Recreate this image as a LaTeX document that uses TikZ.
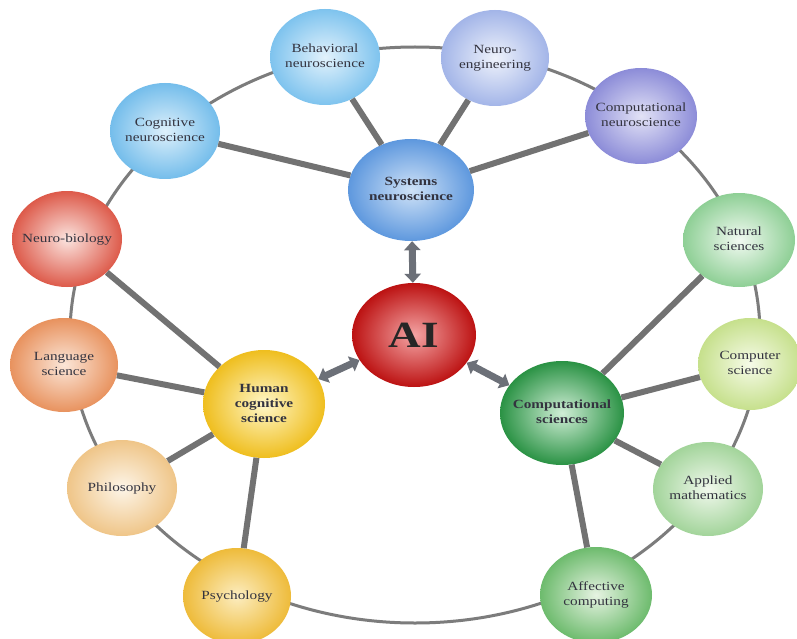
\documentclass[tikz,border=0pt]{standalone}
\usepackage{fontspec}
\setmainfont{Liberation Serif}[FakeStretch=1.22]
\usetikzlibrary{shapes.geometric,arrows.meta}
\definecolor{linegray}{HTML}{727272}
\definecolor{ringgray}{HTML}{7C7C7C}
\definecolor{arrgray}{HTML}{6C7078}
\definecolor{txt}{HTML}{33333F}
\definecolor{behI}{HTML}{E2F2FC}\definecolor{behO}{HTML}{7EC3EE}
\definecolor{neuI}{HTML}{EEF2FB}\definecolor{neuO}{HTML}{A3B5E8}
\definecolor{cogI}{HTML}{DDF0FB}\definecolor{cogO}{HTML}{74BDEB}
\definecolor{cneI}{HTML}{E2E2F6}\definecolor{cneO}{HTML}{8C8CD8}
\definecolor{sysI}{HTML}{CFE2F7}\definecolor{sysO}{HTML}{5E98DE}
\definecolor{nbiI}{HTML}{FBE4DF}\definecolor{nbiO}{HTML}{DD5A4A}
\definecolor{natI}{HTML}{F2FAF2}\definecolor{natO}{HTML}{8ECF95}
\definecolor{aiI}{HTML}{F4A4A4}\definecolor{aiO}{HTML}{BC1212}
\definecolor{lanI}{HTML}{FBE6D8}\definecolor{lanO}{HTML}{E8925E}
\definecolor{cscI}{HTML}{F6FBE8}\definecolor{cscO}{HTML}{C6E08C}
\definecolor{humI}{HTML}{FFF7C8}\definecolor{humO}{HTML}{EFBE1E}
\definecolor{cosI}{HTML}{D0EED6}\definecolor{cosO}{HTML}{2A9244}
\definecolor{phiI}{HTML}{FDF5E8}\definecolor{phiO}{HTML}{EFC588}
\definecolor{appI}{HTML}{F0F8EC}\definecolor{appO}{HTML}{A2D49A}
\definecolor{psyI}{HTML}{FCEDC0}\definecolor{psyO}{HTML}{EEBB3A}
\definecolor{affI}{HTML}{E6F3E2}\definecolor{affO}{HTML}{6DBB6D}
\newcommand{\lbl}[1]{\makebox[0pt]{\begin{tabular}{@{}c@{}}#1\end{tabular}}}
\begin{document}
\begin{tikzpicture}[x=1pt,y=-1pt,
  bub/.style n args={3}{ellipse, draw=none, inner sep=0pt, minimum width=#1, minimum height=#2,
     inner color=#3I, outer color=#3O, text=txt, font=\fontsize{12.5}{15}\selectfont},
  ringline/.style={draw=ringgray, line width=3pt},
  spoke/.style={draw=linegray, line width=6pt},
  dbl/.style={draw=arrgray, line width=7pt, {Triangle[width=16pt,length=9pt]}-{Triangle[width=16pt,length=9pt]}}
]
\useasboundingbox (0,0) rectangle (797,639);
\fill[white] (0,0) rectangle (797,639);
% outer ring
\draw[ringline] (415,335) ellipse [x radius=345, y radius=288];
% nodes
\node[bub={110}{96}{beh}] (beh) at (325,57) {\lbl{Behavioral\\neuroscience}};
\node[bub={108}{96}{neu}] (neu) at (495,58) {\lbl{Neuro-\\engineering}};
\node[bub={110}{96}{cog}] (cog) at (165,131) {\lbl{Cognitive\\neuroscience}};
\node[bub={112}{96}{cne}] (cne) at (641,116) {\lbl{Computational\\neuroscience}};
\node[bub={126}{102}{sys}] (sys) at (411,190) {\lbl{\bfseries Systems\\\bfseries neuroscience}};
\node[bub={110}{96}{nbi}] (nbi) at (67,239) {\lbl{Neuro-biology}};
\node[bub={112}{94}{nat}] (nat) at (739,240) {\lbl{Natural\\sciences}};
\node[bub={124}{104}{ai}, text=black!85, font=\fontsize{37}{40}\selectfont\bfseries] (ai) at (414,335) {AI};
\node[bub={108}{94}{lan}] (lan) at (64,365) {\lbl{Language\\science}};
\node[bub={104}{92}{csc}] (csc) at (750,364) {\lbl{Computer\\science}};
\node[bub={122}{108}{hum}] (hum) at (264,404) {\lbl{\bfseries Human\\\bfseries cognitive\\\bfseries science}};
\node[bub={124}{104}{cos}] (cos) at (562,413) {\lbl{\bfseries Computational\\\bfseries sciences}};
\node[bub={110}{96}{phi}] (phi) at (122,488) {\lbl{Philosophy}};
\node[bub={110}{94}{app}] (app) at (708,489) {\lbl{Applied\\mathematics}};
\node[bub={108}{96}{psy}] (psy) at (237,596) {\lbl{Psychology}};
\node[bub={112}{96}{aff}] (aff) at (596,595) {\lbl{Affective\\computing}};
% spokes
\draw[spoke] (sys) -- (beh);
\draw[spoke] (sys) -- (neu);
\draw[spoke] (sys) -- (cog);
\draw[spoke] (sys) -- (cne);
\draw[spoke] (hum) -- (nbi);
\draw[spoke] (hum) -- (lan);
\draw[spoke] (hum) -- (phi);
\draw[spoke] (hum) -- (psy);
\draw[spoke] (cos) -- (nat);
\draw[spoke] (cos) -- (csc);
\draw[spoke] (cos) -- (app);
\draw[spoke] (cos) -- (aff);
% arrows
\draw[dbl] (sys) -- (ai);
\draw[dbl] (ai) -- (hum);
\draw[dbl] (ai) -- (cos);
\end{tikzpicture}
\end{document}
